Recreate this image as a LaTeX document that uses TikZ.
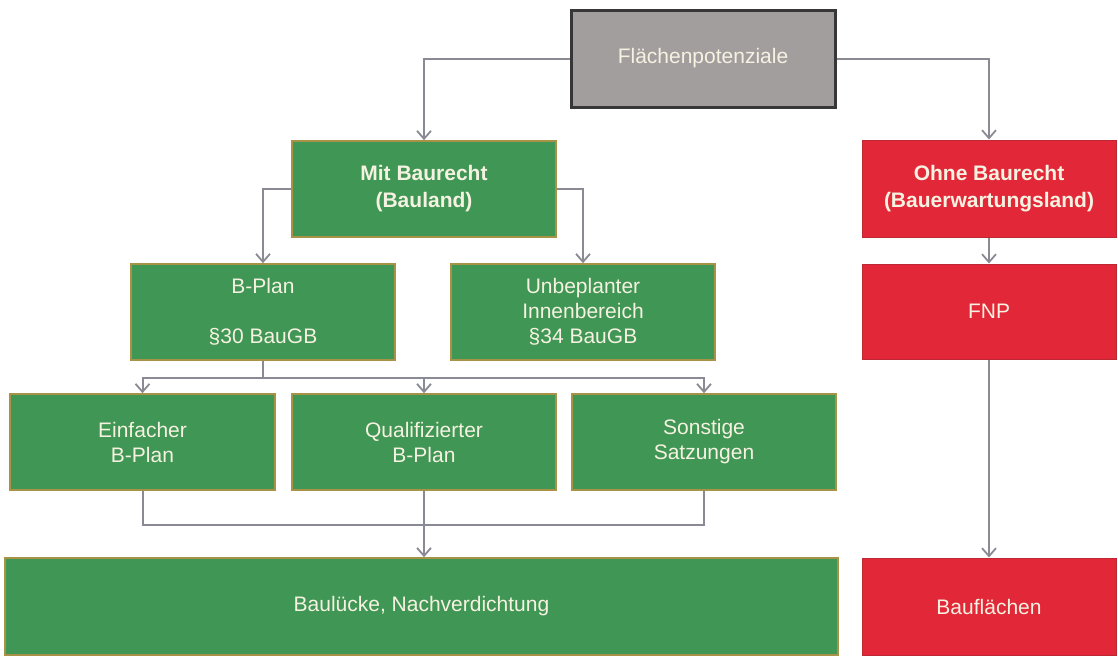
\documentclass[tikz,border=0pt]{standalone}
\usepackage{fontspec}
\setmainfont{Liberation Sans}
\usetikzlibrary{arrows.meta}
\definecolor{boxgreen}{RGB}{64,150,84}
\definecolor{greenedge}{RGB}{168,146,70}
\definecolor{boxred}{RGB}{226,40,56}
\definecolor{rededge}{RGB}{190,40,50}
\definecolor{boxgray}{RGB}{162,158,158}
\definecolor{grayedge}{RGB}{55,55,55}
\definecolor{linegray}{RGB}{138,138,148}
\definecolor{txt}{RGB}{246,242,226}
\tikzset{
  basebox/.style={rectangle, inner sep=0pt, align=center, text=txt,
    font=\fontsize{21}{25}\selectfont},
  greenbox/.style={basebox, fill=boxgreen, draw=greenedge, line width=1.6pt},
  redbox/.style={basebox, fill=boxred, draw=rededge, line width=1pt},
  graybox/.style={basebox, fill=boxgray, draw=grayedge, line width=3pt},
  conn/.style={draw=linegray, line width=2pt},
  arr/.style={conn, -{Straight Barb[length=8pt,width=14pt,line width=1.8pt]}}
}
\begin{document}
\begin{tikzpicture}[x=1pt,y=-1pt]
\useasboundingbox (0,0) rectangle (1118,656);
% nodes
\node[graybox, minimum width=264pt, minimum height=97pt] (top) at (703,58.5) {Flächenpotenziale};
\node[greenbox, minimum width=264pt, minimum height=96pt, font=\fontsize{21}{27}\selectfont\bfseries] (mit) at (424,189) {Mit Baurecht\\(Bauland)};
\node[redbox, minimum width=254pt, minimum height=97pt, font=\fontsize{21}{27}\selectfont\bfseries] (ohne) at (989,188.5) {Ohne Baurecht\\(Bauerwartungsland)};
\node[greenbox, minimum width=264pt, minimum height=96pt] (bplan) at (263,312) {B-Plan\\[25pt]§30 BauGB};
\node[greenbox, minimum width=264pt, minimum height=96pt] (unbep) at (583,312) {Unbeplanter\\Innenbereich\\§34 BauGB};
\node[redbox, minimum width=254pt, minimum height=95pt] (fnp) at (989,311.5) {FNP};
\node[greenbox, minimum width=265pt, minimum height=96pt] (einf) at (142.5,442) {Einfacher\\B-Plan};
\node[greenbox, minimum width=264pt, minimum height=96pt] (qual) at (424,442) {Qualifizierter\\B-Plan};
\node[greenbox, minimum width=264pt, minimum height=96pt] (sonst) at (704,442) {Sonstige\\Satzungen};
\node[greenbox, minimum width=833pt, minimum height=97pt] (baul) at (421.5,606.5) {Baulücke, Nachverdichtung};
\node[redbox, minimum width=254pt, minimum height=97pt] (bauf) at (989,606.5) {Bauflächen};
% junction coordinates
\coordinate (j1) at (263,378);
\coordinate (j2) at (424,525);
% connectors
\draw[arr] (top.west) -| (mit.north);
\draw[arr] (top.east) -| (ohne.north);
\draw[arr] (mit.west) -| (bplan.north);
\draw[arr] (mit.east) -| (unbep.north);
\draw[conn] (bplan.south) -- (j1);
\draw[arr] (j1) -| (einf.north);
\draw[arr] (j1) -| (qual.north);
\draw[arr] (j1) -| (sonst.north);
\draw[conn] (einf.south) |- (j2);
\draw[conn] (sonst.south) |- (j2);
\draw[conn] (qual.south) -- (j2);
\draw[arr] (j2) -- (j2 |- baul.north);
\draw[arr] (ohne.south) -- (fnp.north);
\draw[arr] (fnp.south) -- (bauf.north);
\end{tikzpicture}
\end{document}
